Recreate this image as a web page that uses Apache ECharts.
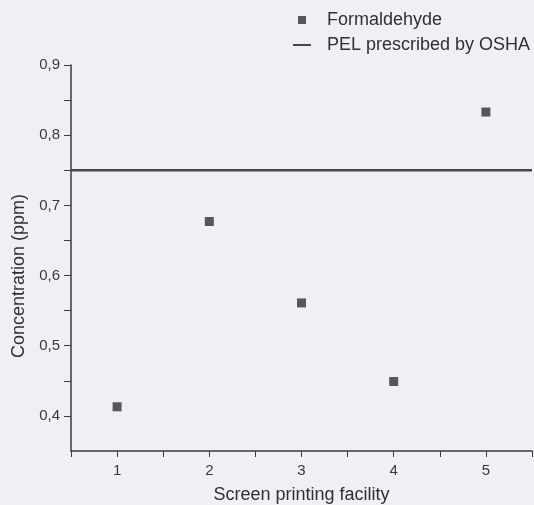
<!DOCTYPE html>
<html>
<head>
<meta charset="utf-8">
<script src="https://cdn.jsdelivr.net/npm/echarts@6/dist/echarts.min.js"></script>
<style>
  html, body { margin: 0; padding: 0; background: #eef0f3; }
  #chart { width: 534px; height: 505px; }
</style>
</head>
<body>
<div id="chart"></div>
<script>
// facilities on the x axis and measured formaldehyde (ppm)
const facilities = [1, 2, 3, 4, 5];
const formaldehyde = [0.413, 0.677, 0.561, 0.449, 0.833];
// OSHA permissible exposure limit (ppm)
const pelValue = 0.75;
const xRange = [0.5, 5.5];
const yRange = [0.35, 0.9];

const FONT = "Liberation Sans";
const INK = "#2f3034";

const chart = echarts.init(document.getElementById("chart"), null, { renderer: "canvas" });

// only whole numbers / whole tenths get a label
function xLabel(v) {
  return Math.abs(v - Math.round(v)) < 1e-6 && v > 0.9 ? String(Math.round(v)) : "";
}
function yLabel(v) {
  const t = Math.round(v * 100);
  return t % 10 === 0 ? (t / 100).toFixed(1).replace(".", ",") : "";
}

chart.setOption({
  backgroundColor: "#eef0f3",
  animation: false,
  grid: { left: 71, right: 2, top: 65, bottom: 54, containLabel: false, outerBoundsMode: "none" },
  legend: [
    {
      data: [{ name: "Formaldehyde", icon: "rect" }],
      left: 293,
      top: 6,
      itemWidth: 8,
      itemHeight: 8,
      textStyle: { fontFamily: FONT, fontSize: 18, color: INK, padding: [0, 0, 0, 16] },
    },
    {
      data: [{ name: "PEL prescribed by OSHA", icon: "rect" }],
      left: 288,
      top: 31,
      itemWidth: 18,
      itemHeight: 2,
      textStyle: { fontFamily: FONT, fontSize: 18, color: INK, padding: [0, 0, 0, 11] },
    },
  ],
  xAxis: {
    type: "value",
    min: xRange[0],
    max: xRange[1],
    interval: 0.5,
    name: "Screen printing facility",
    nameLocation: "middle",
    nameGap: 35,
    nameTextStyle: { fontFamily: FONT, fontSize: 18, color: INK },
    axisLine: { lineStyle: { color: "#3a3b3e", width: 1.5 } },
    axisTick: { length: 6, lineStyle: { color: "#3a3b3e" } },
    axisLabel: { formatter: xLabel, fontFamily: FONT, fontSize: 15, color: "#3a3a3d", margin: 12 },
    splitLine: { show: false },
  },
  yAxis: {
    type: "value",
    min: yRange[0],
    max: yRange[1],
    interval: 0.05,
    name: "Concentration (ppm)",
    nameLocation: "middle",
    nameGap: 39,
    nameTextStyle: { fontFamily: FONT, fontSize: 18, color: INK, padding: [0, 36, 0, 0] },
    axisLine: { show: true, lineStyle: { color: "#3a3b3e", width: 1.5 } },
    axisTick: { show: true, length: 7, lineStyle: { color: "#3a3b3e" } },
    axisLabel: { formatter: yLabel, fontFamily: FONT, fontSize: 15, color: "#3a3a3d", margin: 11, showMinLabel: false },
    splitLine: { show: false },
  },
  series: [
    {
      name: "Formaldehyde",
      type: "scatter",
      symbol: "rect",
      symbolSize: 9,
      itemStyle: { color: INK },
      data: facilities.map((f, i) => [f, formaldehyde[i]]),
    },
    {
      name: "PEL prescribed by OSHA",
      type: "line",
      symbol: "none",
      lineStyle: { color: "#474b3f", width: 2.5 },
      itemStyle: { color: "#474b3f" },
      data: [[xRange[0], pelValue], [xRange[1], pelValue]],
    },
  ],
});
</script>
</body>
</html>
